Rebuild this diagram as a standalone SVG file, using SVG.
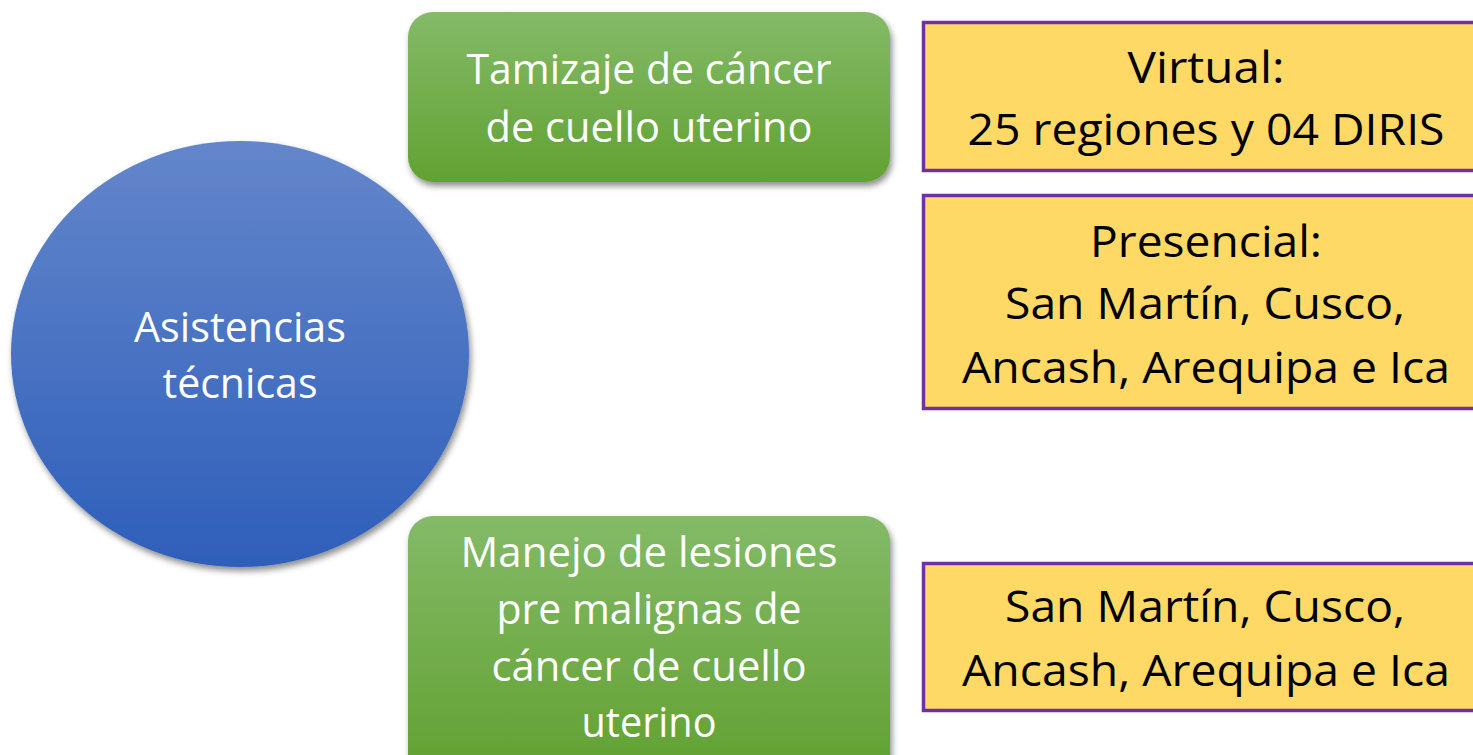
<svg xmlns="http://www.w3.org/2000/svg" width="1473" height="755" viewBox="0 0 1473 755">
<defs>
<linearGradient id="gBlue" x1="0" y1="0" x2="0" y2="1"><stop offset="0" stop-color="#6486CB"/><stop offset="1" stop-color="#2E5FBA"/></linearGradient>
<linearGradient id="gGreen" x1="0" y1="0" x2="0" y2="1"><stop offset="0" stop-color="#84BA68"/><stop offset="1" stop-color="#61A232"/></linearGradient>
<linearGradient id="gGreen2" x1="0" y1="0" x2="0" y2="1"><stop offset="0" stop-color="#84BA68"/><stop offset="1" stop-color="#5FA02E"/></linearGradient>
<filter id="sh" x="-10%" y="-10%" width="125%" height="130%"><feDropShadow dx="2" dy="4" stdDeviation="3" flood-color="#000" flood-opacity="0.45"/></filter>
<style>
.w{font-family:"Open Sans","Noto Sans",sans-serif;fill:#fff;font-size:42px;text-anchor:middle}
.k{font-family:"Open Sans","Noto Sans",sans-serif;fill:#000;font-size:44px;text-anchor:middle}
.y{fill:#FED966;stroke:#7030A0;stroke-width:3.5}
</style>
</defs>
<g id="n-asistencias">
<ellipse cx="240" cy="354" rx="229" ry="213" fill="url(#gBlue)" filter="url(#sh)"/>
<text class="w" x="240" y="342" textLength="212" lengthAdjust="spacingAndGlyphs">Asistencias</text>
<text class="w" x="240" y="398" textLength="155" lengthAdjust="spacingAndGlyphs">técnicas</text>
</g>
<g id="n-tamizaje">
<rect x="408" y="12" width="482" height="170" rx="25" fill="url(#gGreen)" filter="url(#sh)"/>
<text class="w" x="649" y="84" textLength="365" lengthAdjust="spacingAndGlyphs">Tamizaje de cáncer</text>
<text class="w" x="649" y="142" textLength="327" lengthAdjust="spacingAndGlyphs">de cuello uterino</text>
</g>
<g id="n-manejo">
<rect x="408" y="516" width="482" height="270" rx="25" fill="url(#gGreen2)" filter="url(#sh)"/>
<text class="w" x="649" y="567" textLength="377" lengthAdjust="spacingAndGlyphs">Manejo de lesiones</text>
<text class="w" x="649" y="624" textLength="305" lengthAdjust="spacingAndGlyphs">pre malignas de</text>
<text class="w" x="649" y="681" textLength="315" lengthAdjust="spacingAndGlyphs">cáncer de cuello</text>
<text class="w" x="649" y="737" textLength="135" lengthAdjust="spacingAndGlyphs">uterino</text>
</g>
<g id="n-virtual">
<rect class="y" x="923.5" y="22.5" width="560" height="148"/>
<text class="k" x="1206" y="83" textLength="157" lengthAdjust="spacingAndGlyphs">Virtual:</text>
<text class="k" x="1206" y="145" textLength="477" lengthAdjust="spacingAndGlyphs">25 regiones y 04 DIRIS</text>
</g>
<g id="n-presencial">
<rect class="y" x="923.5" y="195.5" width="560" height="213"/>
<text class="k" x="1206" y="257" textLength="232" lengthAdjust="spacingAndGlyphs">Presencial:</text>
<text class="k" x="1205" y="319" textLength="400" lengthAdjust="spacingAndGlyphs">San Martín, Cusco,</text>
<text class="k" x="1206" y="383" textLength="488" lengthAdjust="spacingAndGlyphs">Ancash, Arequipa e Ica</text>
</g>
<g id="n-regiones">
<rect class="y" x="923.5" y="563.5" width="560" height="147"/>
<text class="k" x="1205" y="622" textLength="400" lengthAdjust="spacingAndGlyphs">San Martín, Cusco,</text>
<text class="k" x="1206" y="686" textLength="488" lengthAdjust="spacingAndGlyphs">Ancash, Arequipa e Ica</text>
</g>
<g id="connectors"></g>
</svg>
